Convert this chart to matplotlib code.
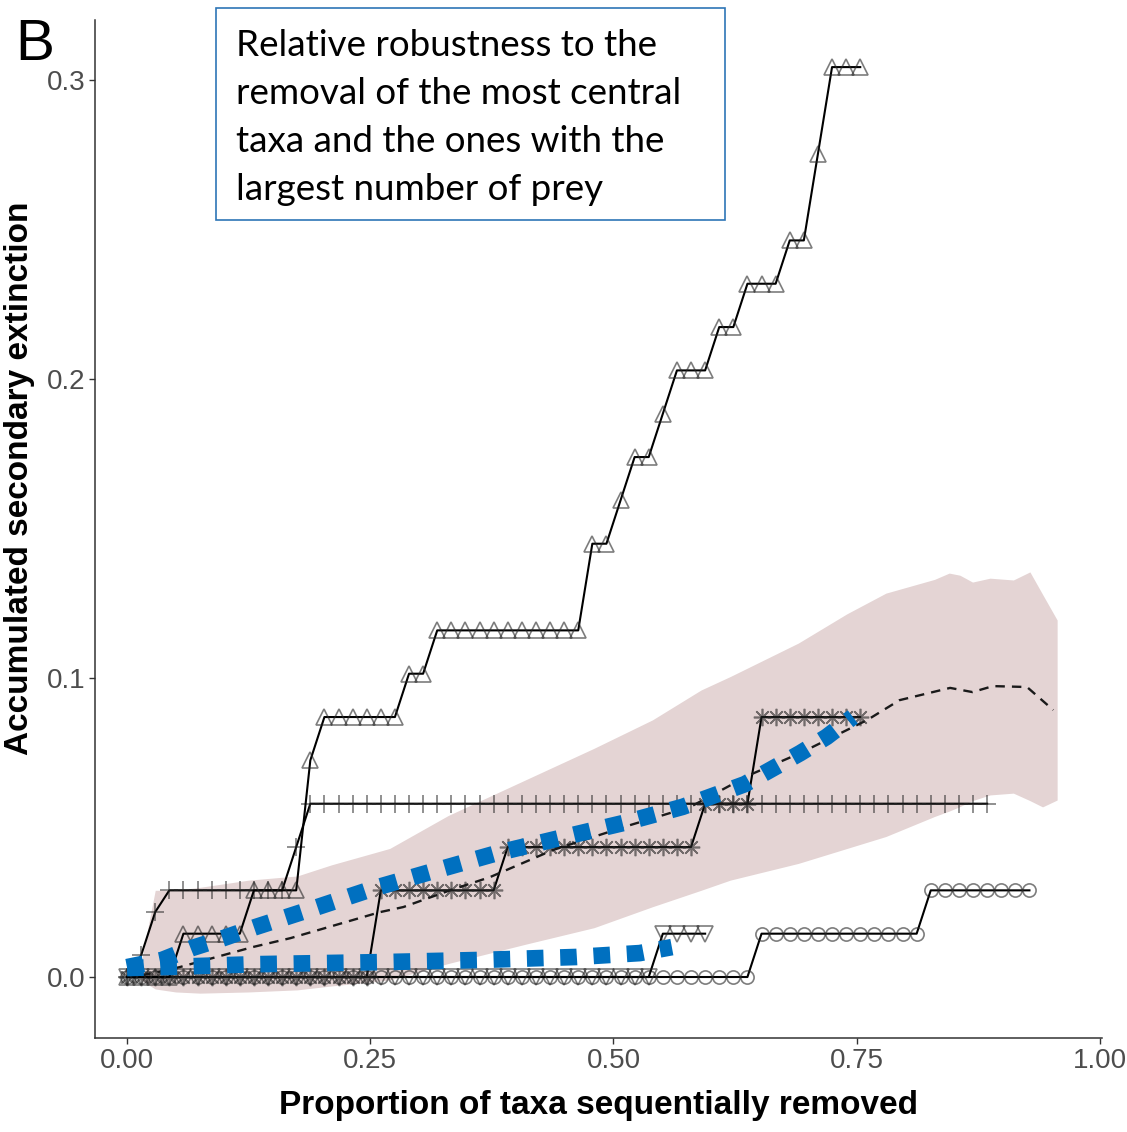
import numpy as np
import matplotlib.pyplot as plt
from matplotlib.patches import Rectangle

# number of taxa in the web; x = taxa removed / n_taxa
n_taxa = 69

# stepwise curves as (level in extinctions, number of consecutive removals)
tri_up_levels = [0, 1, 2, 5, 6, 7, 8, 10, 11, 12, 13, 14, 15, 16, 17, 19, 21]
tri_up_runs = [4, 5, 4, 1, 6, 2, 11, 2, 1, 2, 1, 3, 2, 3, 2, 1, 3]

plus_levels = [0, 0.5, 1.5, 2, 3, 4]
plus_runs = [1, 1, 1, 9, 1, 49]

star_levels = [0, 2, 3, 4, 6]
star_runs = [18, 9, 14, 4, 8]

tri_down_levels = [0, 1]
tri_down_runs = [38, 4]

circle_levels = [0, 1, 2]
circle_runs = [45, 12, 8]

# random-removal envelope and its mean
band_x = [0.014, 0.029, 0.05, 0.075, 0.125, 0.175, 0.21, 0.27, 0.33, 0.41, 0.48,
          0.54, 0.59, 0.62, 0.69, 0.74, 0.78, 0.83, 0.845, 0.856, 0.869, 0.887,
          0.911, 0.928, 0.941, 0.956]
band_hi = [0.004, 0.029, 0.029, 0.030, 0.0324, 0.0338, 0.0375, 0.043, 0.054, 0.066,
           0.0765, 0.086, 0.096, 0.1005, 0.1117, 0.1215, 0.1284, 0.133, 0.1351,
           0.1344, 0.1321, 0.1334, 0.1328, 0.1355, 0.128, 0.1194]
band_lo = [-0.001, -0.004, -0.005, -0.0054, -0.005, -0.0043, -0.003, -0.001, 0.0045,
           0.011, 0.0165, 0.0235, 0.029, 0.0324, 0.038, 0.043, 0.047, 0.0537,
           0.0555, 0.057, 0.059, 0.0609, 0.0615, 0.059, 0.0569, 0.0592]

mean_x = [0.0145, 0.054, 0.129, 0.168, 0.26, 0.284, 0.332, 0.373, 0.438, 0.517,
          0.579, 0.640, 0.692, 0.761, 0.794, 0.846, 0.869, 0.89, 0.925, 0.952]
mean_y = [0.0005, 0.0033, 0.010, 0.013, 0.0217, 0.0234, 0.029, 0.0334, 0.0425,
          0.0508, 0.0569, 0.0676, 0.0749, 0.086, 0.0926, 0.0967, 0.0953, 0.0973,
          0.097, 0.0893]

# hand-drawn trend guides
trend_hi_x = [0, 0.036, 0.067, 0.099, 0.132, 0.193, 0.255, 0.319, 0.381, 0.445,
              0.51, 0.571, 0.635, 0.692, 0.719, 0.746]
trend_hi_y = [0.0033, 0.0057, 0.0097, 0.013, 0.0167, 0.0231, 0.0298, 0.0358, 0.0415,
              0.0465, 0.0515, 0.0569, 0.0645, 0.0749, 0.0803, 0.087]
trend_lo_x = [0, 0.036, 0.134, 0.265, 0.363, 0.462, 0.527, 0.56]
trend_lo_y = [0.003, 0.0033, 0.0043, 0.005, 0.0057, 0.0067, 0.008, 0.010]

box_lines = ["Relative robustness to the", "removal of the most central",
             "taxa and the ones with the", "largest number of prey"]

W, H = 1127, 1132
fig = plt.figure(figsize=(W / 100, H / 100), dpi=100)
ax = fig.add_axes([95 / W, 1 - 1038 / H, (1102 - 95) / W, (1038 - 20) / H])

ax.fill_between(band_x, band_lo, band_hi, color="#e4d4d4", lw=0, zorder=1)


def steps(levels, runs):
    y = np.repeat(levels, runs) / n_taxa
    x = np.arange(len(y)) / n_taxa
    return x, y


mk = dict(mfc="none", mec=(0.15, 0.15, 0.15, 0.6), mew=1.2, color="black",
          lw=1.5, zorder=3)
ax.plot(*steps(circle_levels, circle_runs), marker="o", ms=9.5, **mk)
ax.plot(*steps(tri_down_levels, tri_down_runs), marker="v", ms=11.5, **mk)
ax.plot(*steps(star_levels, star_runs), marker=(8, 2, 0), ms=12.5, **mk)
ax.plot(*steps(plus_levels, plus_runs), marker="+", ms=12.5, **mk)
ax.plot(*steps(tri_up_levels, tri_up_runs), marker="^", ms=11.5, **mk)

ax.plot(mean_x, mean_y, color="#1a1a1a", lw=1.7, ls=(0, (4, 3)), zorder=4)

blue = dict(color="#0070c0", lw=12, ls=(0, (1, 1)), zorder=5)
ax.plot(trend_hi_x, trend_hi_y, **blue)
ax.plot(trend_lo_x, trend_lo_y, **blue)

ax.set_xlim(-0.0329, 1.0021)
ax.set_ylim(-0.0204, 0.3201)
ax.set_xticks([0, 0.25, 0.5, 0.75, 1.0])
ax.set_xticklabels(["0.00", "0.25", "0.50", "0.75", "1.00"])
ax.set_yticks([0, 0.1, 0.2, 0.3])
ax.set_yticklabels(["0.0", "0.1", "0.2", "0.3"])
for s in ["top", "right"]:
    ax.spines[s].set_visible(False)
for s in ["left", "bottom"]:
    ax.spines[s].set_color("#333333")
    ax.spines[s].set_linewidth(1.1)
ax.tick_params(length=4, width=1.0, color="#333333", labelcolor="#4d4d4d",
               labelsize=20, pad=3)
for lab in ax.get_xticklabels() + ax.get_yticklabels():
    lab.set_family("Liberation Sans")

ax.set_xlabel("Proportion of taxa sequentially removed", fontsize=24,
              fontweight="bold", family="Liberation Sans", va="center")
ax.xaxis.set_label_coords(0.5, -0.066)
ax.set_ylabel("Accumulated secondary extinction", fontsize=24,
              fontweight="bold", family="Liberation Sans", va="center")
ax.yaxis.set_label_coords(-0.0745, 0.55)

fig.text(15 / W, 1 - 60 / H, "B", fontsize=42, family="Liberation Sans",
         va="baseline", ha="left")

fig.add_artist(Rectangle((216 / W, 1 - 220 / H), (725 - 216) / W, (220 - 8) / H,
                         transform=fig.transFigure, facecolor="white",
                         edgecolor="#2e75b6", lw=1.2, zorder=10))
for k, line in enumerate(box_lines):
    fig.text(236 / W, 1 - (56 + 48 * k) / H, line, fontsize=26.5, family="Lato",
             va="baseline", ha="left", zorder=11)

fig.savefig("out.png", dpi=100)
